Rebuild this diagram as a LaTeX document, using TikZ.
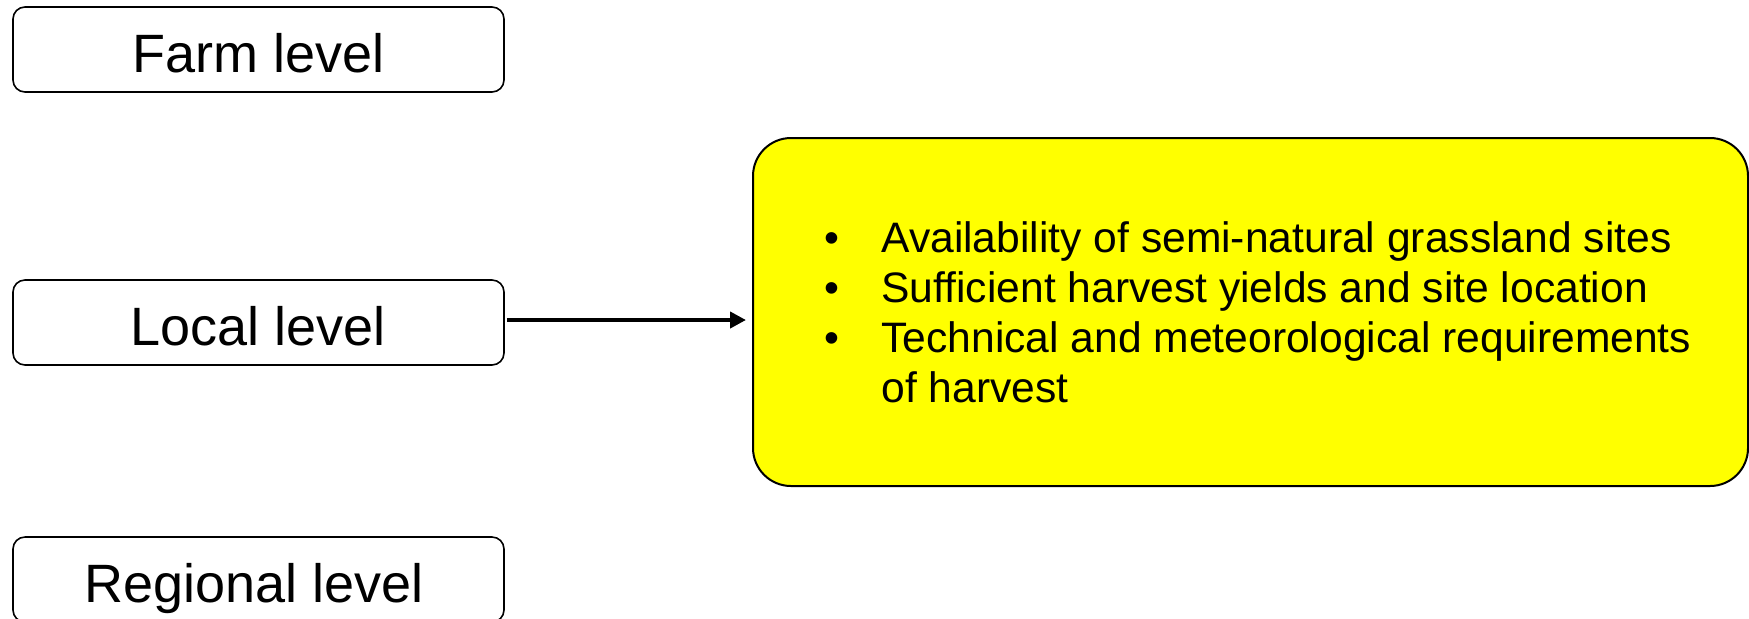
\documentclass[tikz,border=0pt]{standalone}
\usepackage{fontspec}
\setmainfont{Liberation Sans}
\usetikzlibrary{arrows.meta}
\definecolor{boxyellow}{RGB}{255,255,0}
\begin{document}
\begin{tikzpicture}[x=0.5pt,y=-0.5pt,
  levelbox/.style={draw=black, line width=0.8pt, rounded corners=6pt, fill=white,
    minimum width=245.5pt, minimum height=42.5pt, inner sep=0pt,
    font=\fontsize{27pt}{32pt}\selectfont, text height=22.5pt, text depth=0pt},
  infobox/.style={draw=black, line width=1pt, rounded corners=19pt, fill=boxyellow,
    minimum width=497.5pt, minimum height=174pt, inner sep=0pt},
  arr/.style={line width=2pt, -{Triangle[length=8pt,width=8pt]}}]
\useasboundingbox (0,0) rectangle (1749,618);
\node[levelbox] (farm) at (258.5,49.5) {Farm level};
\node[levelbox] (local) at (258.5,322.5) {Local level};
\node[levelbox] (regional) at (258.5,579.5) {\hspace*{-4pt}Regional level};
\node[infobox] (info) at (1250.5,312) {};
\node[anchor=base west, inner sep=0pt] (list) at (824,252)
  {\fontsize{21.3pt}{25pt}\selectfont
   \begin{tabular}[t]{@{}p{28.5pt}@{}l@{}}
   • & Availability of semi-natural grassland sites\\
   • & Sufficient harvest yields and site location\\
   • & Technical and meteorological requirements\\
     & of harvest
   \end{tabular}};
\draw[arr] ([xshift=1pt,yshift=1.25pt]local.east) -- ([xshift=-3pt,yshift=1.25pt]local.east -| info.west);
\end{tikzpicture}
\end{document}
